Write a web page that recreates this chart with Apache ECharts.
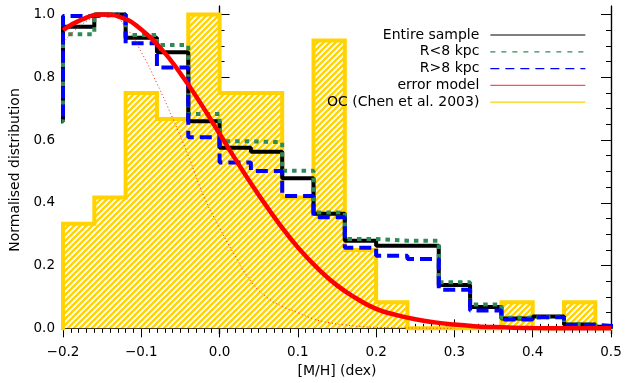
<!DOCTYPE html>
<html><head><meta charset="utf-8">
<script src="https://cdn.jsdelivr.net/npm/echarts@6/dist/echarts.min.js"></script>
<style>html,body{margin:0;padding:0;background:#fff}#c{width:630px;height:383px}</style>
</head><body><div id="c"></div>
<script>
// Histogram bins (left edges, width 0.04), last right edge
const binLeft = [-0.24,-0.20,-0.16,-0.12,-0.08,-0.04,0.00,0.04,0.08,0.12,0.16,0.20,0.24,0.28,0.32,0.36,0.40,0.44,0.48];
const binLastRight = 0.52;
const entireSample = [0.66,0.961,1.0,0.926,0.880,0.660,0.575,0.563,0.478,0.365,0.279,0.263,0.263,0.138,0.068,0.031,0.038,0.012,0.005];
const innerR = [0.66,0.937,1.0,0.935,0.903,0.683,0.596,0.593,0.502,0.369,0.285,0.279,0.279,0.147,0.076,0.034,0.038,0.013,0.006];
const outerR = [0.66,0.995,1.0,0.908,0.831,0.609,0.528,0.501,0.422,0.354,0.257,0.231,0.221,0.123,0.057,0.028,0.035,0.011,0.005];
const openClusters = [0,0.333,0.417,0.750,0.667,1.0,0.750,0.750,0.417,0.917,0.250,0.083,0,0,0,0.083,0,0.083,0];
// error model (thick red)
const errX = [-0.2,-0.175,-0.15,-0.125,-0.1,-0.075,-0.05,-0.025,0.0,0.025,0.05,0.075,0.1,0.125,0.15,0.175,0.2,0.225,0.25,0.275,0.3,0.325,0.35,0.375,0.4,0.45,0.5];
const errY = [0.95,0.985,1.0,0.99,0.952,0.892,0.812,0.72,0.62,0.52,0.425,0.337,0.258,0.192,0.137,0.095,0.062,0.043,0.029,0.019,0.012,0.007,0.004,0.002,0.001,0.0003,0.0];
// thin dotted red curve
const dotX = [-0.2,-0.18,-0.16,-0.14,-0.12,-0.1,-0.08,-0.06,-0.04,-0.02,0.0,0.02,0.04,0.06,0.08,0.1,0.12,0.14,0.16,0.18,0.2,0.25,0.3];
const dotY = [0.91,0.96,0.99,1.0,0.96,0.88,0.78,0.67,0.55,0.42,0.32,0.23,0.15,0.1,0.07,0.05,0.03,0.018,0.011,0.006,0.003,0.001,0.0];
const yMajor = [0,0.2,0.4,0.6,0.8,1.0];
const seriesNames = ['Entire sample','R<8 kpc','R>8 kpc','error model','OC (Chen et al. 2003)'];

const yMinor = [];
for (let i = 0; i <= 20; i++) yMinor.push(+(i*0.05).toFixed(2));

function histPoints(vals){
  const p = binLeft.map((x,i)=>[x, vals[i]]);
  p.push([binLastRight, vals[vals.length-1]]);
  return p;
}
function pairs(xs, ys){ return xs.map((x,i)=>[x, ys[i]]); }

function hatch(){
  const s = 6, c = document.createElement('canvas');
  c.width = s; c.height = s;
  const g = c.getContext('2d');
  g.fillStyle = '#fff'; g.fillRect(0,0,s,s);
  g.strokeStyle = '#FFD200'; g.lineWidth = 2.3;
  g.beginPath();
  g.moveTo(0,s); g.lineTo(s,0);
  g.moveTo(-s/2,s/2); g.lineTo(s/2,-s/2);
  g.moveTo(s/2,s*1.5); g.lineTo(s*1.5,s/2);
  g.stroke();
  return c;
}

const FONT = 'DejaVu Sans';
const fmt = v => (v < -1e-9 ? '\u2212' : '') + Math.abs(v).toFixed(1);
const axLine = {show:true, lineStyle:{color:'#000', width:1.2}};
const xCommon = {type:'value', min:-0.2, max:0.5, interval:0.1, splitLine:{show:false}, axisLine:axLine,
  axisTick:{inside:true, length:9, lineStyle:{color:'#000', width:1}},
  minorTick:{show:true, splitNumber:10, length:4.5, lineStyle:{color:'#000', width:1}}};
const yRange = {type:'value', min:-0.018, max:1.027, splitLine:{show:false}, axisLine:axLine};
const hideSym = {color:'rgba(0,0,0,0)', borderColor:'rgba(0,0,0,0)', borderWidth:0};

const chart = echarts.init(document.getElementById('c'), null, {renderer:'canvas'});
chart.setOption({
  animation:false,
  backgroundColor:'#fff',
  textStyle:{fontFamily:FONT},
  grid:{left:63, right:19, top:6, bottom:47, containLabel:false},
  legend:{
    orient:'vertical', right:39, top:23, align:'right', itemWidth:95, itemHeight:14, itemGap:2.8,
    selectedMode:false,
    textStyle:{fontFamily:FONT, fontSize:14, color:'#000', padding:[0,6,0,0]},
    data:[
      {name:seriesNames[0], itemStyle:hideSym, lineStyle:{color:'#555', width:1.3, type:'solid'}},
      {name:seriesNames[1], itemStyle:hideSym, lineStyle:{color:'#2E8B57', width:1.3, type:[5,6]}},
      {name:seriesNames[2], itemStyle:hideSym, lineStyle:{color:'#0000ff', width:1.3, type:[9,6]}},
      {name:seriesNames[3], itemStyle:hideSym, lineStyle:{color:'#ff5050', width:1.3, type:'solid'}},
      {name:seriesNames[4], itemStyle:hideSym, lineStyle:{color:'#FFD200', width:1.3, type:'solid'}}
    ]
  },
  xAxis:[
    Object.assign({}, xCommon, {position:'bottom', name:'[M/H] (dex)', nameLocation:'middle', nameGap:30,
      nameTextStyle:{fontFamily:FONT, fontSize:14, color:'#000'},
      axisLabel:{formatter:fmt, margin:11, color:'#000', fontFamily:FONT, fontSize:13.5}}),
    Object.assign({}, xCommon, {position:'top', axisLabel:{show:false}})
  ],
  yAxis:[
    Object.assign({}, yRange, {position:'left', name:'Normalised distribution', nameLocation:'middle', nameGap:32,
      nameTextStyle:{fontFamily:FONT, fontSize:14, color:'#000'},
      axisTick:{inside:true, length:10, customValues:yMajor, lineStyle:{color:'#000', width:1}},
      axisLabel:{customValues:yMajor, formatter:fmt, margin:8, color:'#000', fontFamily:FONT, fontSize:13.5}}),
    Object.assign({}, yRange, {position:'left', axisTick:{inside:true, length:5, customValues:yMinor, lineStyle:{color:'#000', width:1}}, axisLabel:{show:false}}),
    Object.assign({}, yRange, {position:'right', axisTick:{inside:true, length:10, customValues:yMajor, lineStyle:{color:'#000', width:1}}, axisLabel:{show:false}}),
    Object.assign({}, yRange, {position:'right', axisTick:{inside:true, length:5, customValues:yMinor, lineStyle:{color:'#000', width:1}}, axisLabel:{show:false}})
  ],
  series:[
    {name:seriesNames[4], type:'line', step:'end', symbol:'none', data:histPoints(openClusters),
      lineStyle:{color:'#FFD200', width:4, join:'miter'}, itemStyle:{color:'#FFD200'},
      areaStyle:{color:{image:hatch(), repeat:'repeat'}, opacity:1}},
    {name:seriesNames[0], type:'line', step:'end', symbol:'none', data:histPoints(entireSample),
      lineStyle:{color:'#000', width:4}, itemStyle:{color:'#000'}},
    {name:seriesNames[1], type:'line', step:'end', symbol:'none', data:histPoints(innerR),
      lineStyle:{color:'#2E8B57', width:4, type:[4.5,5], cap:'butt'}, itemStyle:{color:'#2E8B57'}},
    {name:seriesNames[2], type:'line', step:'end', symbol:'none', data:histPoints(outerR),
      lineStyle:{color:'#0000ff', width:4, type:[12,6], cap:'butt'}, itemStyle:{color:'#0000ff'}},
    {name:seriesNames[3], type:'line', smooth:true, symbol:'none', data:pairs(errX, errY),
      lineStyle:{color:'#ff0000', width:4.5}, itemStyle:{color:'#ff0000'}},
    {name:'model (narrow)', type:'line', smooth:true, symbol:'none', data:pairs(dotX, dotY),
      lineStyle:{color:'#ff2020', width:1, type:[1,2.5]}, itemStyle:{color:'#ff2020'}}
  ]
});
</script></body></html>
